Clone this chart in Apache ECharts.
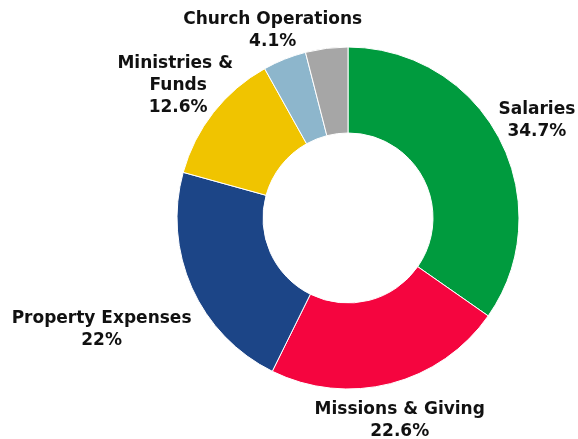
<!DOCTYPE html>
<html><head><meta charset="utf-8">
<script src="https://cdn.jsdelivr.net/npm/echarts@6/dist/echarts.min.js"></script>
<style>html,body{margin:0;padding:0;background:#fff}#c{width:578px;height:439px}</style></head>
<body><div id="c"></div><script>
const categories = ['Salaries', 'Missions & Giving', 'Property Expenses', 'Ministries & Funds', 'Church Operations', 'Other'];
const values = [34.7, 22.6, 22, 12.6, 4.1, 4.0];
const colors = ['#009B3E', '#F5053F', '#1C4587', '#F0C400', '#8DB6CC', '#A6A6A6'];
const showLabel = [true, true, true, true, true, false];
const labelRadius = [213, 208, 270, 216, 203, 0];

const total = values.reduce((a, b) => a + b, 0);
const cx = 348, cy = 218;
function midAngle(i) {
  let s = 0;
  for (let k = 0; k < i; k++) s += values[k];
  return (s + values[i] / 2) / total * 2 * Math.PI;
}
const chart = echarts.init(document.getElementById('c'), null, {renderer: 'canvas'});
chart.setOption({
  animation: false,
  series: [{
    type: 'pie',
    center: [cx, cy],
    radius: [85, 171],
    startAngle: 90,
    clockwise: true,
    avoidLabelOverlap: false,
    itemStyle: {borderColor: '#fff', borderWidth: 1},
    label: {
      show: true, position: 'outside',
      formatter: p => p.name + '\n' + p.value + '%',
      fontFamily: 'DejaVu Sans', fontWeight: 700, fontSize: 17, color: '#111',
      lineHeight: 22, align: 'center'
    },
    labelLine: {show: false},
    labelLayout: function (p) {
      const a = midAngle(p.dataIndex);
      const r = labelRadius[p.dataIndex];
      return {x: cx + r * Math.sin(a), y: cy - r * Math.cos(a) + 1, align: 'center', verticalAlign: 'middle'};
    },
    data: categories.map((n, i) => ({
      name: n, value: values[i],
      itemStyle: {color: colors[i]},
      label: Object.assign({show: showLabel[i]}, i === 3 ? {width: 130, overflow: 'break'} : {})
    }))
  }]
});
</script></body></html>
